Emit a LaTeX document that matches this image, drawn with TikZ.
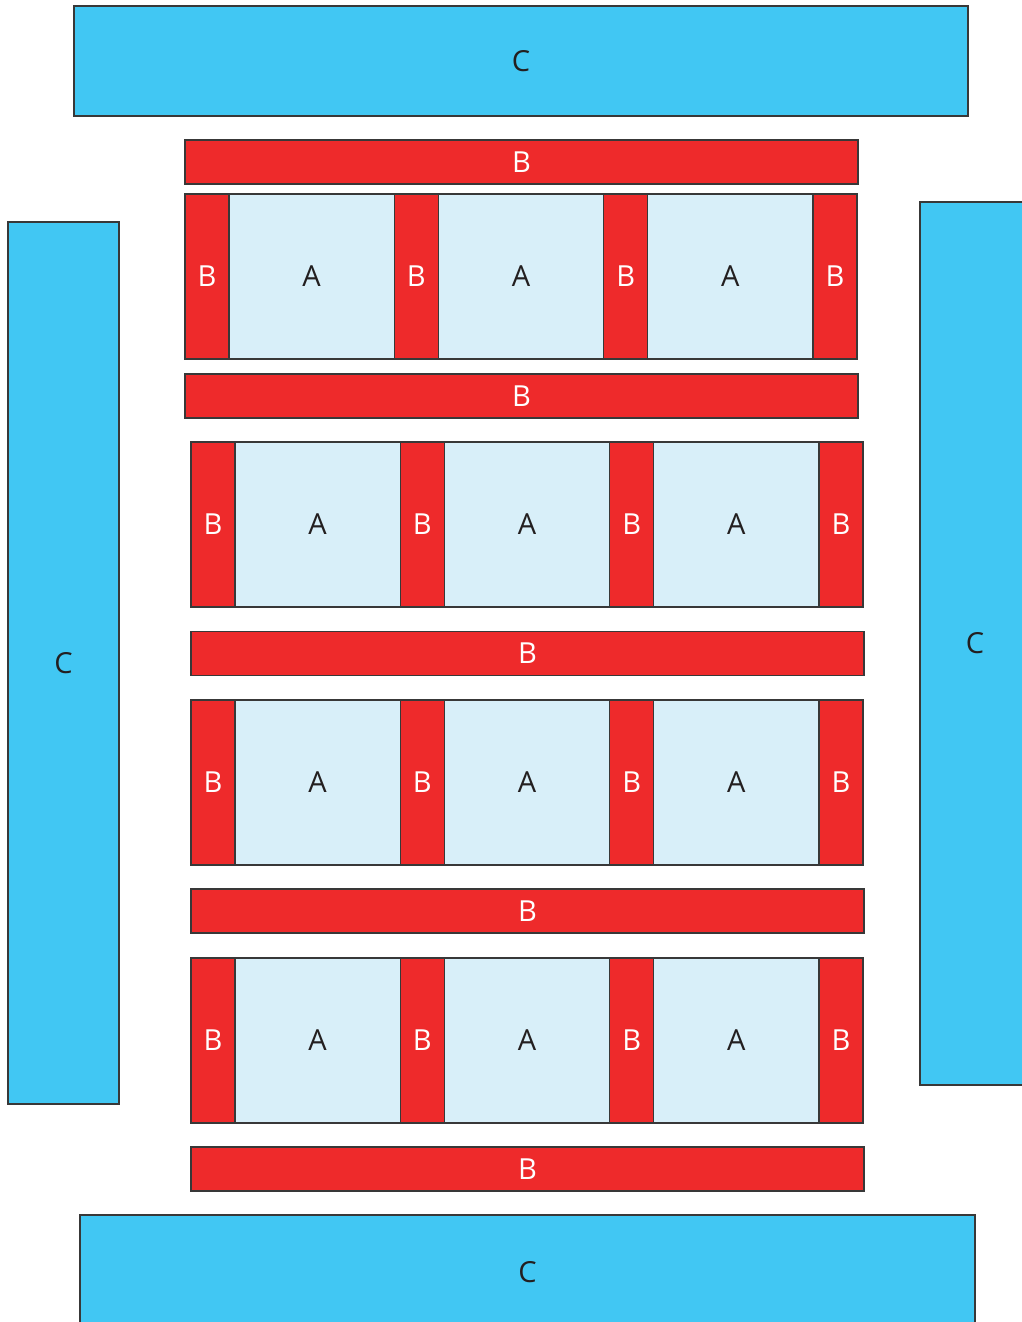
\documentclass[tikz,border=0pt]{standalone}
\usepackage{fontspec}
\setsansfont{Open Sans}
\definecolor{cblue}{HTML}{41C7F3}
\definecolor{bred}{HTML}{EE2A2B}
\definecolor{apale}{HTML}{D8EFF9}
\definecolor{ink}{HTML}{231F20}

\begin{document}
\begin{tikzpicture}[
		x=1pt,y=-1pt,
		font=\sffamily\fontsize{29}{34}\selectfont,
		block/.style={
			draw=black!78,
			line width=1.3pt,
			inner sep=0pt,
			outer sep=0pt
		},
		cblock/.style={block,fill=cblue,text=ink},
		bbar/.style={block,fill=bred,text=white,minimum width=673,minimum height=44},
		bcell/.style={block,fill=bred,text=white,minimum width=44,minimum height=165,anchor=north west},
		acell/.style={block,fill=apale,text=ink,minimum width=165.33,minimum height=165,anchor=north west}
	]
		\useasboundingbox (0,0) rectangle (1021,1322);

		% outer C blocks
		\node[cblock,minimum width=894,minimum height=110] (ctop) at (521,61) {C};
		\node[cblock,minimum width=111,minimum height=882] (cleft) at (63.5,663) {C};
		\node[cblock,minimum width=110,minimum height=883] (cright) at (975,643.5) {C};
		\node[cblock,minimum width=895,minimum height=115] (cbot) at (527.5,1272.5) {C};

		% horizontal B bars
		\node[bbar] (bar0) at (521.5,162) {B};
		\node[bbar] (bar1) at (521.5,396) {B};
		\node[bbar] (bar2) at (527.5,653.5) {B};
		\node[bbar] (bar3) at (527.5,911) {B};
		\node[bbar] (bar4) at (527.5,1169) {B};

		% rows of A cells between B posts
		\foreach \r/\x/\y in {1/185/194,2/191/442,3/191/700,4/191/958}{
			\node[bcell] (r\r b1) at (\x,\y) {B};
			\node[acell] (r\r a1) at (r\r b1.north east) {A};
			\node[bcell] (r\r b2) at (r\r a1.north east) {B};
			\node[acell] (r\r a2) at (r\r b2.north east) {A};
			\node[bcell] (r\r b3) at (r\r a2.north east) {B};
			\node[acell] (r\r a3) at (r\r b3.north east) {A};
			\node[bcell] (r\r b4) at (r\r a3.north east) {B};
		}
	\end{tikzpicture}
\end{document}
